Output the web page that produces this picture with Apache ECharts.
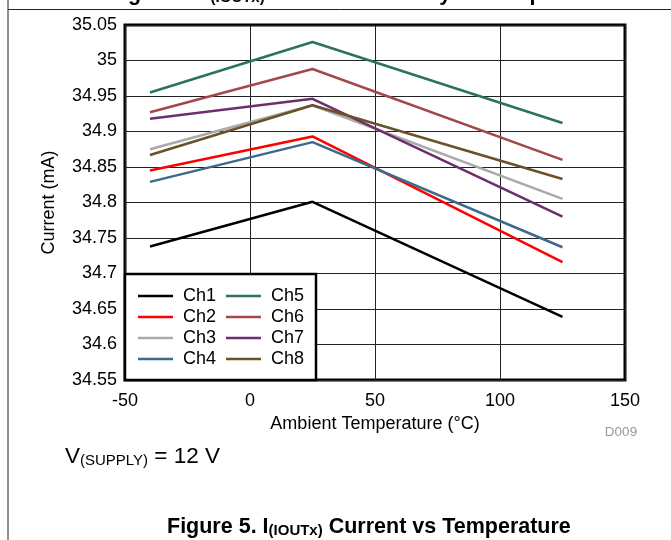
<!DOCTYPE html>
<html>
<head>
<meta charset="utf-8">
<script src="https://cdn.jsdelivr.net/npm/echarts@6/dist/echarts.min.js"></script>
<style>
html,body{margin:0;padding:0;background:#fff;}
#chart{width:671px;height:540px;}
</style>
</head>
<body>
<div id="chart"></div>
<script>
// Data
const temperatures = [-40, 25, 125];
const seriesNames = ['Ch1', 'Ch2', 'Ch3', 'Ch4', 'Ch5', 'Ch6', 'Ch7', 'Ch8'];
const ch1 = [34.738, 34.801, 34.639];
const ch2 = [34.845, 34.893, 34.716];
const ch3 = [34.875, 34.937, 34.805];
const ch4 = [34.829, 34.885, 34.737];
const ch5 = [34.955, 35.026, 34.912];
const ch6 = [34.927, 34.988, 34.860];
const ch7 = [34.918, 34.946, 34.780];
const ch8 = [34.867, 34.937, 34.833];
const yTicks = [34.55, 35.05, 0.05]; // min, max, step
const xTicks = [-50, 150, 50];

const allValues = [ch1, ch2, ch3, ch4, ch5, ch6, ch7, ch8];
const colors = ['#000000', '#ff0000', '#aaaaaa', '#3a6b8a', '#2a7553', '#a24848', '#6c2e6c', '#6b5028'];
const FONT = '"Liberation Sans", Arial, Helvetica, sans-serif';

const chart = echarts.init(document.getElementById('chart'), null, {renderer: 'canvas'});

const series = seriesNames.map((name, i) => ({
  name: name,
  type: 'line',
  data: temperatures.map((t, j) => [t, allValues[i][j]]),
  symbol: 'none',
  lineStyle: {color: colors[i], width: 2.5},
  itemStyle: {color: colors[i]},
  z: 2,
  animation: false
}));

const legendCommon = {
  orient: 'vertical',
  icon: 'rect',
  itemWidth: 35,
  itemHeight: 2.5,
  itemGap: 3,
  padding: 0,
  textStyle: {fontSize: 18, color: '#000', fontFamily: FONT, padding: [0, 0, 0, 5]},
  z: 5
};

const captionRich = {
  b: {fontSize: 21.5, fontWeight: 'bold', lineHeight: 26, verticalAlign: 'bottom', fontFamily: FONT, fill: '#000'},
  s: {fontSize: 15, fontWeight: 'bold', lineHeight: 16, verticalAlign: 'bottom', fontFamily: FONT, fill: '#000'}
};

chart.setOption({
  animation: false,
  backgroundColor: '#fff',
  grid: {
    left: 125, right: 46, top: 25, bottom: 160,
    show: true, borderColor: '#000', borderWidth: 3, backgroundColor: 'transparent'
  },
  xAxis: {
    type: 'value', min: xTicks[0], max: xTicks[1], interval: xTicks[2],
    axisLine: {show: false}, axisTick: {show: false},
    splitLine: {show: true, lineStyle: {color: '#222', width: 1}},
    axisLabel: {fontSize: 18, color: '#000', fontFamily: FONT, margin: 12},
    name: 'Ambient Temperature (°C)', nameLocation: 'middle', nameGap: 34,
    nameTextStyle: {fontSize: 18, color: '#000', fontFamily: FONT}
  },
  yAxis: {
    type: 'value', min: yTicks[0], max: yTicks[1], interval: yTicks[2],
    axisLine: {show: false}, axisTick: {show: false},
    splitLine: {show: true, lineStyle: {color: '#222', width: 1}},
    axisLabel: {
      fontSize: 18, color: '#000', fontFamily: FONT, margin: 8,
      formatter: v => String(parseFloat(v.toFixed(2)))
    },
    name: 'Current (mA)', nameLocation: 'middle', nameGap: 67, nameRotate: 90,
    nameTextStyle: {fontSize: 18, color: '#000', fontFamily: FONT}
  },
  legend: [
    Object.assign({}, legendCommon, {data: seriesNames.slice(0, 4), left: 138, top: 287}),
    Object.assign({}, legendCommon, {data: seriesNames.slice(4), left: 226, top: 287})
  ],
  series: series,
  graphic: [
    {type: 'rect', shape: {x: 125, y: 274, width: 191, height: 106}, style: {fill: '#fff', stroke: '#000', lineWidth: 2.5}, z: 3},
    {type: 'line', shape: {x1: 8, y1: 0, x2: 8, y2: 540}, style: {stroke: '#222', lineWidth: 1}, z: 1},
    {type: 'line', shape: {x1: 8, y1: 9.5, x2: 671, y2: 9.5}, style: {stroke: '#222', lineWidth: 1}, z: 1},
    {type: 'text', x: 621, y: 432, style: {text: 'D009', fontSize: 13.5, fill: '#999', fontFamily: FONT, align: 'center', verticalAlign: 'middle'}},
    {type: 'text', x: 65, y: 442, style: {
      text: '{a|V}{s|(SUPPLY)}{a| = 12 V}',
      fontFamily: FONT, fill: '#000',
      rich: {
        a: {fontSize: 22.5, lineHeight: 26, verticalAlign: 'bottom', fontFamily: FONT, fill: '#000'},
        s: {fontSize: 15, lineHeight: 15, verticalAlign: 'bottom', fontFamily: FONT, fill: '#000'}
      }
    }},
    {type: 'text', x: 167, y: 512, style: {
      text: '{b|Figure 5. I}{s|(IOUTx)}{b| Current vs Temperature}',
      fontFamily: FONT, fill: '#000', rich: captionRich
    }},
    {type: 'text', x: 109, y: -20.7, style: {
      text: '{b|Figure 4. I}{s|(IOUTx)}{b| Current Accuracy vs Temperature}',
      fontFamily: FONT, fill: '#000', rich: captionRich
    }}
  ]
});
</script>
</body>
</html>
